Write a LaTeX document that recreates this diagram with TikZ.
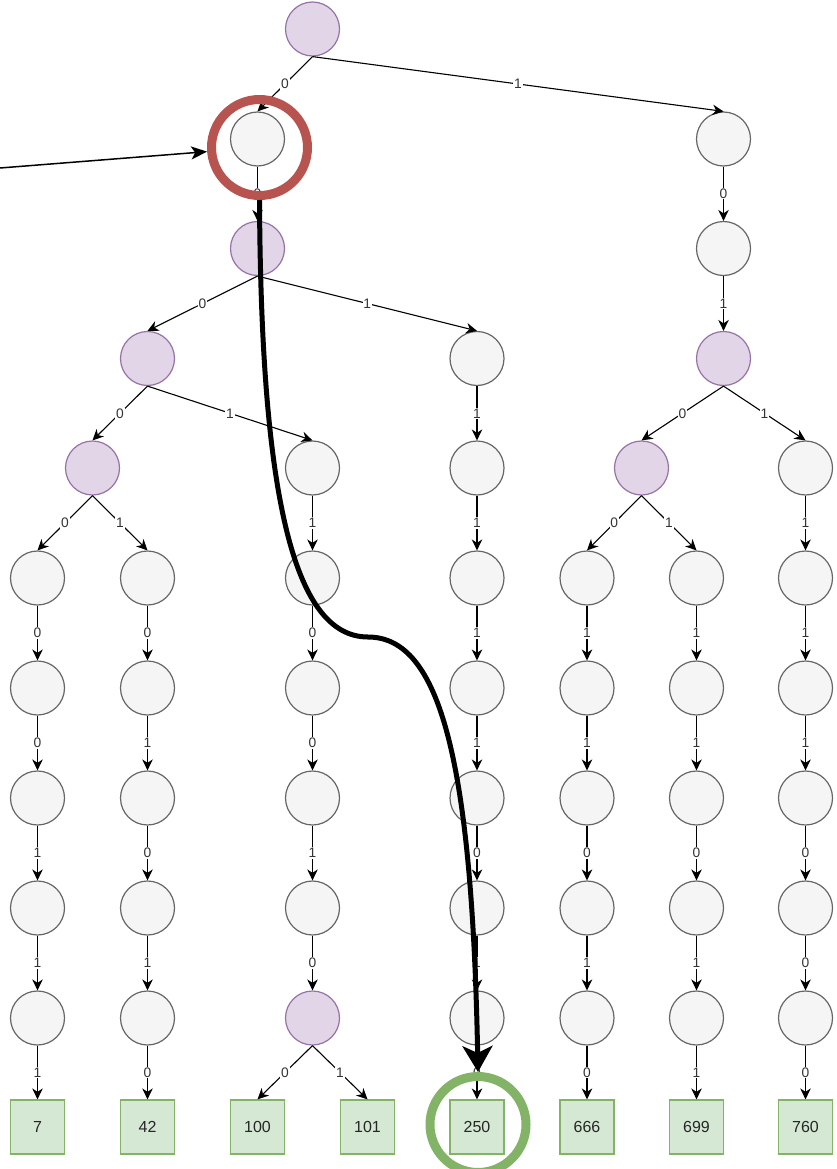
\documentclass[tikz,border=0pt]{standalone}
\usepackage{fontspec}
\setmainfont{Liberation Sans}
\usetikzlibrary{arrows.meta}
\definecolor{pfill}{HTML}{E1D5E7}
\definecolor{pdraw}{HTML}{9673A6}
\definecolor{gfill}{HTML}{F5F5F5}
\definecolor{gdraw}{HTML}{666666}
\definecolor{lfill}{HTML}{D5E8D4}
\definecolor{ldraw}{HTML}{82B366}
\definecolor{ringred}{HTML}{B85450}
\tikzset{
  trie/.style={circle, minimum size=54pt, inner sep=0pt, line width=1.2pt},
  inner/.style={trie, fill=pfill, draw=pdraw},
  plain/.style={trie, fill=gfill, draw=gdraw},
  leaf/.style={rectangle, minimum size=54pt, inner sep=0pt, fill=lfill, draw=ldraw,
    line width=1.2pt, font=\fontsize{16}{18}\selectfont, text=black!85},
  edge/.style={line width=1.1pt, -{Stealth[length=11pt,width=10.5pt,inset=3.5pt]}},
  bit/.style={midway, fill=white, inner sep=0.8pt, font=\fontsize{13.8}{15}\selectfont, text=black!80},
  ring/.style={circle, minimum size=96pt, line width=9pt, inner sep=0pt},
  bigarrow/.style={line width=5pt, -{Stealth[length=26pt,width=30pt,inset=7pt]}},
  pointer/.style={line width=1.5pt, -{Stealth[length=16pt,width=13pt,inset=4pt]}},
}
\begin{document}
\begin{tikzpicture}[x=1pt,y=-1pt]
\useasboundingbox (0,0) rectangle (836,1169);

% upper levels
\node[inner] (r)  at (312.5,29) {};
\node[plain] (a1) at (257.5,139) {};
\node[plain] (b1) at (723.5,139) {};
\node[inner] (a2) at (257.5,248.5) {};
\node[plain] (b2) at (723.5,248.5) {};
\node[inner] (c3) at (147.5,358.5) {};
\node[plain] (d3) at (477,358.5) {};
\node[inner] (b3) at (723.5,358.5) {};
\node[inner] (e4) at (92.5,468) {};
\node[plain] (f4) at (312.5,468) {};
\node[plain] (d4) at (477,468) {};
\node[inner] (g4) at (641.5,468) {};
\node[plain] (h4) at (805.5,468) {};

% columns rows 5..9
\foreach \col/\x in {A/37.5,B/147.5,C/312.5,D/477,E/587,F/696.5,G/805.5} {
  \foreach \row/\y in {5/578,6/688,7/798,8/908} {
    \node[plain] (\col\row) at (\x,\y) {};
  }
}
\foreach \col/\x in {A/37.5,B/147.5,D/477,E/587,F/696.5,G/805.5} {
  \node[plain] (\col9) at (\x,1018) {};
}
\node[inner] (C9) at (312.5,1018) {};

% leaves
\node[leaf] (s7)   at (37.5,1127) {7};
\node[leaf] (s42)  at (147.5,1127) {42};
\node[leaf] (s100) at (257.5,1127) {100};
\node[leaf] (s101) at (367.5,1127) {101};
\node[leaf] (s250) at (477,1127) {250};
\node[leaf] (s666) at (587,1127) {666};
\node[leaf] (s699) at (696.5,1127) {699};
\node[leaf] (s760) at (805.5,1127) {760};

% upper edges
\draw[edge] (r.south) -- node[bit]{0} (a1.north);
\draw[edge] (r.south) -- node[bit]{1} (b1.north);
\draw[edge] (a1.south) -- node[bit]{0} (a2.north);
\draw[edge] (b1.south) -- node[bit]{0} (b2.north);
\draw[edge] (b2.south) -- node[bit]{1} (b3.north);
\draw[edge] (a2.south) -- node[bit]{0} (c3.north);
\draw[edge] (a2.south) -- node[bit]{1} (d3.north);
\draw[edge] (c3.south) -- node[bit]{0} (e4.north);
\draw[edge] (c3.south) -- node[bit]{1} (f4.north);
\draw[edge] (d3.south) -- node[bit]{1} (d4.north);
\draw[edge] (b3.south) -- node[bit]{0} (g4.north);
\draw[edge] (b3.south) -- node[bit]{1} (h4.north);

% level 4 -> 5
\draw[edge] (e4.south) -- node[bit]{0} (A5.north);
\draw[edge] (e4.south) -- node[bit]{1} (B5.north);
\draw[edge] (f4.south) -- node[bit]{1} (C5.north);
\draw[edge] (d4.south) -- node[bit]{1} (D5.north);
\draw[edge] (g4.south) -- node[bit]{0} (E5.north);
\draw[edge] (g4.south) -- node[bit]{1} (F5.north);
\draw[edge] (h4.south) -- node[bit]{1} (G5.north);

% columns
\foreach \col/\p/\q/\s/\t in {A/0/0/1/1, B/0/1/0/1, C/0/0/1/0, D/1/1/0/1, E/1/1/0/1, F/1/1/0/1, G/1/1/0/0} {
  \draw[edge] (\col5.south) -- node[bit]{\p} (\col6.north);
  \draw[edge] (\col6.south) -- node[bit]{\q} (\col7.north);
  \draw[edge] (\col7.south) -- node[bit]{\s} (\col8.north);
  \draw[edge] (\col8.south) -- node[bit]{\t} (\col9.north);
}

% to leaves
\draw[edge] (A9.south) -- node[bit]{1} (s7.north);
\draw[edge] (B9.south) -- node[bit]{0} (s42.north);
\draw[edge] (C9.south) -- node[bit]{0} (s100.north);
\draw[edge] (C9.south) -- node[bit]{1} (s101.north);
\draw[edge] (D9.south) -- node[bit]{0} (s250.north);
\draw[edge] (E9.south) -- node[bit]{0} (s666.north);
\draw[edge] (F9.south) -- node[bit]{1} (s699.north);
\draw[edge] (G9.south) -- node[bit]{0} (s760.north);

% highlights
\node[ring, draw=ringred] (hl) at (259.5,147.5) {};
\node[ring, draw=ldraw] (hit) at (478,1124.5) {};
\coordinate (src) at (0,168);
\draw[pointer] (src) -- (hl);
\draw[bigarrow] (hl.south) .. controls (261,490) and (292,637) .. (368,637)
  .. controls (440,637) and (472,760) .. (hit.north);
\end{tikzpicture}
\end{document}
